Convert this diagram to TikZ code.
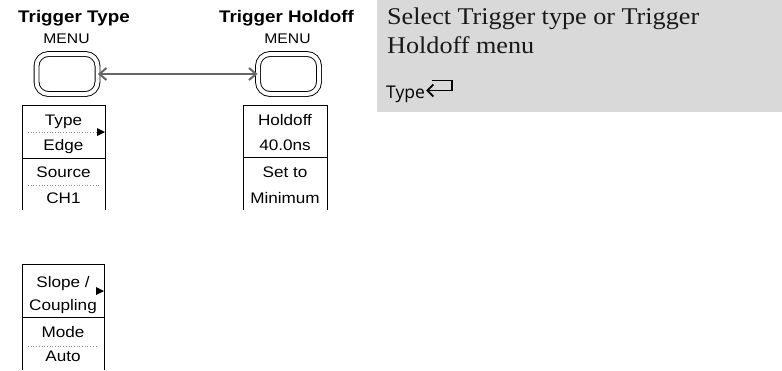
\documentclass[tikz,border=0pt]{standalone}
\usepackage{fontspec}
\usetikzlibrary{arrows.meta}
\setsansfont{Liberation Sans}[FakeStretch=1.12]
\newfontfamily\descfont{Liberation Serif}[FakeStretch=1.09]
\newfontfamily\typefont{Open Sans}
\definecolor{panelgray}{HTML}{D9D9D9}
\definecolor{arrowgray}{HTML}{666666}
\definecolor{dotgray}{HTML}{8A8A8A}
\tikzset{
  btn/.style={draw=black, line width=0.9pt, double=white, double distance=4pt,
    rounded corners=12pt, minimum width=61pt, minimum height=40pt, inner sep=0pt},
  title/.style={font=\sffamily\bfseries\fontsize{16.8}{19}\selectfont, anchor=base, inner sep=0pt},
  menulbl/.style={font=\sffamily\fontsize{14}{16}\selectfont, anchor=base, inner sep=0pt},
  item/.style={font=\sffamily\fontsize{15.3}{17}\selectfont, anchor=base, inner sep=0pt},
  boxline/.style={draw=black, line width=0.9pt},
  sep/.style={draw=dotgray, line width=0.7pt, dotted},
  tri/.style={fill=black, draw=none},
  desc/.style={font=\descfont\fontsize{24}{28}\selectfont, anchor=base west, inner sep=0pt, text=black!90},
  link/.style={draw=arrowgray, line width=2pt, {Straight Barb[length=7pt,width=12pt]}-{Straight Barb[length=7pt,width=12pt]}}
}
\begin{document}
\begin{tikzpicture}[x=1pt,y=-1pt]
\useasboundingbox (0,0) rectangle (782,370);
% right description panel
\fill[panelgray] (377,0) rectangle (782,112);
\node[desc] (d1) at (387,24) {Select Trigger type or Trigger};
\node[desc] (d2) at (387,53) {Holdoff menu};
\node[font=\typefont\fontsize{17.5}{20}\selectfont, anchor=base west, inner sep=0pt] (d3) at (386,98) {Type};
\coordinate (r1) at (432,80.5);
\coordinate (r2) at (452,80.5);
\coordinate (r3) at (452,90.5);
\coordinate (r4) at (426,90.5);
\draw[line width=1.9pt, -{Straight Barb[length=6pt,width=12pt]}] (r1) -- (r2) -- (r3) -- (r4);

% titles
\node[title] (t1) at (74,22) {Trigger Type};
\node[menulbl] (m1) at (66.5,43) {MENU};
\node[title] (t2) at (286.5,22) {Trigger Holdoff};
\node[menulbl] (m2) at (287.5,43) {MENU};

% buttons
\node[btn] (b1) at (67,74) {};
\node[btn] (b2) at (288.5,74) {};
\draw[link] (b1.east) -- (b2.west);

% left menu box
\draw[boxline] (22,210) -- (22,105) -- (105,105) -- (105,210);
\draw[boxline] (22,158) -- (105,158);
\draw[sep] (28,132) -- (99,132);
\draw[sep] (28,185) -- (99,185);
\fill[tri] (97,128) -- (105,132) -- (97,136) -- cycle;
\node[item] (i1) at (63.5,125) {Type};
\node[item] (i2) at (63.5,150) {Edge};
\node[item] (i3) at (63.5,177) {Source};
\node[item] (i4) at (63.5,203) {CH1};

% right menu box
\draw[boxline] (243,210) -- (243,105) -- (327,105) -- (327,210);
\draw[boxline] (243,157) -- (327,157);
\node[item] (j1) at (285,125) {Holdoff};
\node[item] (j2) at (285,150) {40.0ns};
\node[item] (j3) at (285,177) {Set to};
\node[item] (j4) at (285,203) {Minimum};

% bottom menu box
\draw[boxline] (22,370) -- (22,264) -- (104,264) -- (104,370);
\draw[boxline] (22,317) -- (104,317);
\draw[sep] (28,346) -- (98,346);
\fill[tri] (96,287) -- (104,291) -- (96,295) -- cycle;
\node[item] (k1) at (63,287) {Slope /};
\node[item] (k2) at (63,310) {Coupling};
\node[item] (k3) at (63,337) {Mode};
\node[item] (k4) at (63,361) {Auto};
\end{tikzpicture}
\end{document}
